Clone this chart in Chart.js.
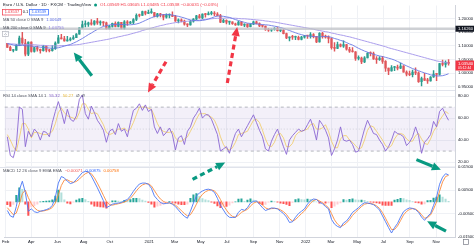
<!DOCTYPE html>
<html>
<head>
<meta charset="utf-8">
<script src="https://cdn.jsdelivr.net/npm/chart.js@4.4.0/dist/chart.umd.min.js"></script>
<style>
  html, body { margin: 0; padding: 0; background: #fff; }
  #wrap { width: 474px; height: 247px; }
</style>
</head>
<body>
<div id="wrap"><canvas id="myChart" width="474" height="247"></canvas></div>
<script>
// weekly EUR/USD candles, first week starting Monday 2020-02-03
const firstMonday = '2020-02-03';

const opens = [
  1.1090,1.0945,1.0830,1.0845, 1.1025,1.1285,1.1105,1.0695,1.1140, 1.0800,1.0935,1.0875,1.0820, 1.0980,1.0840,1.0820,1.0900,
  1.1100,1.1290,1.1255,1.1180,1.1220, 1.1250,1.1300,1.1430,1.1655, 1.1780,1.1785,1.1840,1.1795,1.1905, 1.1840,1.1845,1.1840,1.1630,
  1.1715,1.1825,1.1715,1.1860, 1.1645,1.1875,1.1830,1.1860,1.1965, 1.2120,1.2110,1.2255,1.2185,
  1.2215,1.2220,1.2080,1.2170, 1.2135,1.2045,1.2120,1.2120, 1.2075,1.1915,1.1950,1.1905,1.1795, 1.1765,1.1900,1.1980,1.2095,
  1.2020,1.2165,1.2140,1.2180,1.2195, 1.2165,1.2105,1.1865,1.1935, 1.1865,1.1875,1.1810,1.1770, 1.1870,1.1760,1.1795,1.1700,1.1795,
  1.1880,1.1815,1.1725,1.1720, 1.1595,1.1570,1.1600,1.1645, 1.1560,1.1570,1.1445,1.1290,1.1320, 1.1315,1.1315,1.1240,1.1320,
  1.1370,1.1360,1.1415,1.1345,1.1145, 1.1455,1.1350,1.1320,1.1270, 1.0930,1.0910,1.1050,1.0985, 1.1045,1.0875,1.0810,1.0785,
  1.0545,1.0550,1.0410,1.0560,1.0730, 1.0720,1.0520,1.0495,1.0555, 1.0430,1.0185,1.0080,1.0210, 1.0220,1.0180,1.0260,1.0040,0.9965,
  0.9950,1.0040,1.0015,0.9690, 0.9800,0.9740,0.9720,0.9860,0.9965, 0.9960,1.0355,1.0325,1.0400
];
const closes = [
  1.0945,1.0830,1.0845,1.1025, 1.1285,1.1105,1.0695,1.1140,1.0800, 1.0935,1.0875,1.0820,1.0980, 1.0840,1.0820,1.0900,1.1100,
  1.1290,1.1255,1.1180,1.1220,1.1250, 1.1300,1.1430,1.1655,1.1780, 1.1785,1.1840,1.1795,1.1905,1.1840, 1.1845,1.1840,1.1630,1.1715,
  1.1825,1.1715,1.1860,1.1645, 1.1875,1.1830,1.1860,1.1965,1.2120, 1.2110,1.2255,1.2185,1.2215,
  1.2220,1.2080,1.2170,1.2135, 1.2045,1.2120,1.2120,1.2075, 1.1915,1.1950,1.1905,1.1795,1.1765, 1.1900,1.1980,1.2095,1.2020,
  1.2165,1.2140,1.2180,1.2195,1.2165, 1.2105,1.1865,1.1935,1.1865, 1.1875,1.1810,1.1770,1.1870, 1.1760,1.1795,1.1700,1.1795,1.1880,
  1.1815,1.1725,1.1720,1.1595, 1.1570,1.1600,1.1645,1.1560, 1.1570,1.1445,1.1290,1.1320,1.1315, 1.1315,1.1240,1.1320,1.1370,
  1.1360,1.1415,1.1345,1.1145,1.1455, 1.1350,1.1320,1.1270,1.0930, 1.0910,1.1050,1.0985,1.1045, 1.0875,1.0810,1.0785,1.0545,
  1.0550,1.0410,1.0560,1.0730,1.0720, 1.0520,1.0495,1.0555,1.0430, 1.0185,1.0080,1.0210,1.0220, 1.0180,1.0260,1.0040,0.9965,0.9950,
  1.0040,1.0015,0.9690,0.9800, 0.9740,0.9720,0.9860,0.9965,0.9960, 1.0355,1.0325,1.0400,1.0354
];
const highs = [
  1.1095,1.0990,1.0865,1.1055, 1.1355,1.1495,1.1240,1.1150,1.1150, 1.0950,1.0990,1.0885,1.1020, 1.1000,1.0875,1.1010,1.1145,
  1.1385,1.1420,1.1350,1.1350,1.1300, 1.1375,1.1450,1.1660,1.1910, 1.1915,1.1865,1.1965,1.1920,1.2010, 1.1915,1.1890,1.1870,1.1755,
  1.1830,1.1880,1.1880,1.1860, 1.1920,1.1920,1.1895,1.2000,1.2175, 1.2165,1.2270,1.2275,1.2310,
  1.2350,1.2225,1.2190,1.2190, 1.2150,1.2170,1.2170,1.2245, 1.2115,1.1990,1.1990,1.1945,1.1810, 1.1930,1.1995,1.2115,1.2150,
  1.2170,1.2185,1.2245,1.2265,1.2255, 1.2220,1.2150,1.1975,1.1950, 1.1895,1.1880,1.1830,1.1910, 1.1900,1.1805,1.1805,1.1805,1.1910,
  1.1910,1.1845,1.1750,1.1720, 1.1640,1.1625,1.1670,1.1690, 1.1615,1.1610,1.1465,1.1325,1.1385, 1.1355,1.1360,1.1345,1.1385,
  1.1385,1.1485,1.1450,1.1350,1.1485, 1.1495,1.1395,1.1365,1.1290, 1.1120,1.1135,1.1070,1.1185, 1.1055,1.0950,1.0935,1.0790,
  1.0640,1.0590,1.0605,1.0750,1.0785, 1.0775,1.0605,1.0605,1.0615, 1.0465,1.0190,1.0280,1.0255, 1.0295,1.0370,1.0275,1.0090,1.0080,
  1.0115,1.0200,1.0050,0.9855, 0.9995,0.9810,0.9875,1.0095,0.9975, 1.0365,1.0480,1.0450,1.0500
];
const lows = [
  1.0940,1.0825,1.0778,1.0830, 1.1020,1.1055,1.0635,1.0640,1.0770, 1.0770,1.0810,1.0730,1.0810, 1.0780,1.0775,1.0805,1.0870,
  1.1095,1.1250,1.1170,1.1170,1.1185, 1.1240,1.1300,1.1430,1.1645, 1.1695,1.1710,1.1755,1.1755,1.1780, 1.1755,1.1735,1.1610,1.1610,
  1.1680,1.1690,1.1690,1.1620, 1.1610,1.1745,1.1810,1.1800,1.1925, 1.2060,1.2110,1.2130,1.2175,
  1.2190,1.2055,1.2050,1.2055, 1.1950,1.2010,1.2020,1.2065, 1.1895,1.1835,1.1875,1.1760,1.1705, 1.1760,1.1870,1.1960,1.2010,
  1.1985,1.2050,1.2130,1.2135,1.2105, 1.2095,1.1845,1.1850,1.1805, 1.1780,1.1780,1.1750,1.1755, 1.1750,1.1705,1.1665,1.1690,1.1775,
  1.1800,1.1700,1.1680,1.1565, 1.1530,1.1525,1.1570,1.1535, 1.1515,1.1435,1.1265,1.1185,1.1235, 1.1225,1.1220,1.1220,1.1285,
  1.1275,1.1285,1.1290,1.1120,1.1135, 1.1280,1.1280,1.1105,1.0880, 1.0805,1.0900,1.0960,1.0945, 1.0840,1.0760,1.0770,1.0470,
  1.0490,1.0350,1.0390,1.0555,1.0630, 1.0505,1.0360,1.0470,1.0355, 1.0070,0.9950,1.0075,1.0095, 1.0120,1.0165,1.0035,0.9900,0.9910,
  0.9865,0.9945,0.9665,0.9535, 0.9735,0.9630,0.9705,0.9850,0.9730, 0.9930,1.0270,1.0220,1.0290
];
const ma50 = [
  1.108,1.106,1.103,1.101,1.101,1.102,1.100,1.100,1.099,1.098, 1.097,1.095,1.095,1.093,1.092,1.091,1.092,1.093,1.096,1.099,
  1.102,1.105,1.110,1.115,1.121,1.127,1.134,1.141,1.147,1.154, 1.160,1.166,1.171,1.174,1.176,1.178,1.178,1.179,1.178,1.178,
  1.177,1.177,1.178,1.180,1.183,1.188,1.193,1.198,1.203,1.207, 1.210,1.213,1.214,1.215,1.214,1.213,1.210,1.208,1.205,1.202,
  1.198,1.195,1.193,1.192,1.192,1.193,1.195,1.198,1.202,1.206, 1.209,1.209,1.208,1.206,1.204,1.200,1.196,1.193,1.189,1.186,
  1.183,1.182,1.181,1.180,1.179,1.178,1.177,1.176,1.174,1.172, 1.170,1.167,1.164,1.160,1.156,1.152,1.148,1.144,1.141,1.138,
  1.136,1.135,1.134,1.133,1.133,1.134,1.134,1.134,1.131,1.127, 1.124,1.120,1.117,1.112,1.107,1.103,1.097,1.091,1.086,1.081,
  1.077,1.073,1.069,1.066,1.063,1.061,1.058,1.055,1.052,1.048, 1.043,1.038,1.032,1.027,1.022,1.017,1.013,1.009,1.005,1.001,
  0.998,0.994,0.992,0.990,0.990,0.991,0.994,0.998
];
const ma200 = [
  1.108,1.107,1.107,1.106,1.106,1.106,1.105,1.105,1.104,1.104, 1.103,1.102,1.102,1.101,1.100,1.100,1.100,1.100,1.101,1.101,
  1.102,1.102,1.103,1.104,1.105,1.107,1.109,1.111,1.113,1.115, 1.117,1.119,1.121,1.123,1.125,1.128,1.130,1.133,1.135,1.138,
  1.140,1.143,1.146,1.149,1.152,1.156,1.159,1.162,1.165,1.168, 1.171,1.174,1.176,1.179,1.181,1.183,1.185,1.186,1.188,1.189,
  1.190,1.191,1.192,1.193,1.194,1.196,1.197,1.198,1.199,1.200, 1.201,1.201,1.201,1.202,1.202,1.201,1.201,1.200,1.199,1.199,
  1.198,1.197,1.196,1.195,1.194,1.193,1.191,1.190,1.188,1.187, 1.185,1.183,1.181,1.179,1.177,1.175,1.173,1.171,1.169,1.167,
  1.165,1.163,1.161,1.158,1.156,1.154,1.152,1.150,1.147,1.145, 1.142,1.140,1.138,1.135,1.133,1.130,1.127,1.124,1.121,1.118,
  1.115,1.112,1.109,1.106,1.103,1.100,1.097,1.093,1.090,1.087, 1.084,1.081,1.078,1.075,1.072,1.069,1.066,1.063,1.060,1.057,
  1.054,1.051,1.048,1.045,1.043,1.041,1.039,1.037
];
const rsi = [
  43,26,24,35,70,68,34,48,43,50, 47,40,48,47,43,56,66,75,66,55, 68,59,57,62,77,81,64,59,71,65,
  58,54,49,38,48,50,45,55,48,50, 43,56,67,69,73,67,72,66,68,52, 46,52,44,47,51,45,31,42,44,36,
  48,52,60,64,69,60,63,63,59,52, 45,30,32,34,28,38,46,50,43,48, 53,58,63,56,49,43,32,30,39,45,
  50,42,34,27,40,44,47,50,48,49, 54,59,51,40,58,54,49,42,26,32, 40,52,40,39,40,36,29,30,40,50,
  58,52,46,45,40,36,30,34,40,48, 46,45,43,35,38,43,52,44,28,38, 41,45,57,52,66,69,63,58
];
const rsiMa = [
  45,40,34,30,42,55,55,50,42,47, 47,46,45,45,46,48,55,65,69,65, 62,61,60,59,65,73,73,68,64,65,
  64,59,54,47,45,46,48,50,50,51, 48,50,56,63,70,70,70,69,68,62, 55,50,48,47,47,48,42,39,39,41,
  43,48,53,59,64,64,64,62,61,58, 52,43,36,32,31,33,38,45,46,47, 48,53,58,59,56,49,41,35,34,38,
  45,46,42,34,34,37,44,47,48,49, 50,54,55,50,50,51,54,48,39,33, 33,41,44,44,40,38,35,32,33,40,
  49,53,52,48,44,40,35,33,35,41, 45,46,45,41,39,39,44,46,41,37, 36,41,48,52,58,62,66,64
];
const macd = [
  -0.0037,-0.0060,-0.0066,-0.0020,0.0050,0.0088,0.0040,-0.0040,-0.0030,-0.0042,
  -0.0046,-0.0040,-0.0037,-0.0033,-0.0028,-0.0015,0.0020,0.0080,0.0108,0.0102,
  0.0088,0.0078,0.0082,0.0095,0.0110,0.0125,0.0130,0.0128,0.0110,0.0085,
  0.0060,0.0033,0.0005,-0.0025,-0.0018,-0.0010,-0.0007,-0.0005,-0.0003,0.0005,
  0.0010,0.0025,0.0045,0.0062,0.0076,0.0080,0.0080,0.0075,0.0058,0.0025,
  0.0010,-0.0003,-0.0008,-0.0007,-0.0004,-0.0010,-0.0020,-0.0035,-0.0050,-0.0062,
  -0.0070,-0.0040,-0.0005,0.0025,0.0038,0.0046,0.0052,0.0054,0.0050,0.0040,
  0.0015,-0.0015,-0.0035,-0.0055,-0.0066,-0.0067,-0.0066,-0.0045,-0.0032,-0.0036,
  -0.0025,-0.0005,0.0002,0.0004,-0.0010,-0.0025,-0.0037,-0.0032,-0.0026,-0.0027,
  -0.0030,-0.0040,-0.0050,-0.0065,-0.0088,-0.0085,-0.0066,-0.0050,-0.0040,-0.0030,
  -0.0010,0.0005,0.0012,0.0010,-0.0002,-0.0008,-0.0020,-0.0030,-0.0075,-0.0095,
  -0.0105,-0.0110,-0.0090,-0.0082,-0.0065,-0.0045,-0.0035,-0.0025,-0.0012,-0.0004,
  -0.0005,-0.0008,-0.0012,-0.0022,-0.0035,-0.0060,-0.0085,-0.0110,-0.0133,-0.0110,
  -0.0092,-0.0065,-0.0042,-0.0032,-0.0026,-0.0028,-0.0033,-0.0045,-0.0065,-0.0079,
  -0.0062,-0.0050,-0.0015,0.0020,0.0075,0.0105,0.0120,0.0115
];
const signal = [
  -0.0025,-0.0040,-0.0055,-0.0048,-0.0010,0.0035,0.0050,0.0018,-0.0008,-0.0025,
  -0.0036,-0.0040,-0.0039,-0.0036,-0.0032,-0.0024,-0.0005,0.0030,0.0070,0.0093,
  0.0094,0.0087,0.0083,0.0087,0.0097,0.0110,0.0120,0.0126,0.0120,0.0103,
  0.0080,0.0055,0.0028,0.0002,-0.0012,-0.0014,-0.0011,-0.0008,-0.0005,-0.0001,
  0.0005,0.0015,0.0030,0.0047,0.0062,0.0072,0.0077,0.0077,0.0068,0.0048,
  0.0028,0.0012,0.0002,-0.0004,-0.0005,-0.0008,-0.0014,-0.0025,-0.0038,-0.0050,
  -0.0060,-0.0055,-0.0035,-0.0010,0.0015,0.0032,0.0043,0.0049,0.0051,0.0047,
  0.0032,0.0010,-0.0015,-0.0035,-0.0052,-0.0062,-0.0066,-0.0057,-0.0045,-0.0038,
  -0.0032,-0.0018,-0.0006,0.0000,-0.0003,-0.0013,-0.0026,-0.0031,-0.0029,-0.0028,
  -0.0029,-0.0034,-0.0042,-0.0054,-0.0072,-0.0082,-0.0076,-0.0063,-0.0050,-0.0039,
  -0.0022,-0.0006,0.0006,0.0010,0.0004,-0.0004,-0.0014,-0.0025,-0.0050,-0.0077,
  -0.0095,-0.0105,-0.0100,-0.0090,-0.0076,-0.0058,-0.0044,-0.0032,-0.0020,-0.0010,
  -0.0007,-0.0007,-0.0010,-0.0017,-0.0028,-0.0046,-0.0070,-0.0095,-0.0118,-0.0118,
  -0.0103,-0.0080,-0.0056,-0.0041,-0.0032,-0.0029,-0.0031,-0.0040,-0.0055,-0.0070,
  -0.0067,-0.0056,-0.0031,0.0000,0.0045,0.0085,0.0108,0.0113
];
const hist = [
  -0.0012,-0.0020,-0.0011,0.0028,0.0060,0.0053,-0.0010,-0.0058,-0.0022,-0.0017,
  -0.0010,0.0000,0.0002,0.0003,0.0004,0.0009,0.0025,0.0050,0.0038,0.0009,
  -0.0006,-0.0009,-0.0001,0.0008,0.0013,0.0015,0.0010,0.0002,-0.0010,-0.0018,
  -0.0020,-0.0022,-0.0023,-0.0027,-0.0006,0.0004,0.0004,0.0003,0.0002,0.0006,
  0.0005,0.0010,0.0015,0.0015,0.0014,0.0008,0.0003,-0.0002,-0.0010,-0.0023,
  -0.0018,-0.0015,-0.0010,-0.0003,0.0001,-0.0002,-0.0006,-0.0010,-0.0012,-0.0012,
  -0.0010,0.0015,0.0030,0.0035,0.0023,0.0014,0.0009,0.0005,-0.0001,-0.0007,
  -0.0017,-0.0025,-0.0020,-0.0020,-0.0014,-0.0005,0.0000,0.0012,0.0013,0.0002,
  0.0007,0.0013,0.0008,0.0004,-0.0007,-0.0012,-0.0011,-0.0001,0.0003,0.0001,
  -0.0001,-0.0006,-0.0008,-0.0011,-0.0016,-0.0003,0.0010,0.0013,0.0010,0.0009,
  0.0012,0.0011,0.0006,0.0000,-0.0006,-0.0004,-0.0006,-0.0005,-0.0025,-0.0018,
  -0.0010,-0.0005,0.0010,0.0008,0.0011,0.0013,0.0009,0.0007,0.0008,0.0006,
  0.0002,-0.0001,-0.0002,-0.0005,-0.0007,-0.0014,-0.0015,-0.0015,-0.0015,0.0008,
  0.0011,0.0015,0.0014,0.0009,0.0006,0.0001,-0.0002,-0.0005,-0.0010,-0.0009,
  0.0005,0.0006,0.0016,0.0020,0.0030,0.0020,0.0012,0.0002
];

// axis ticks
const monthTicks = ['2020-02-01','2020-04-01','2020-06-01','2020-08-01','2020-10-01','2021-01-01','2021-03-01','2021-05-01',
  '2021-07-01','2021-09-01','2021-11-01','2022-01-01','2022-03-01','2022-05-01','2022-07-01','2022-09-01','2022-11-01'];
const monthLabels = ['Feb','Apr','Jun','Aug','Oct','2021','Mar','May','Jul','Sep','Nov','2022','Mar','May','Jul','Sep','Nov'];
const priceTicks = [0.95, 1.00, 1.05, 1.10, 1.15, 1.20];
const rsiTicks = [20, 30, 40, 50, 60, 70, 80];
const rsiBands = [70, 50, 30];
const macdTicks = [-0.015, -0.01, -0.005, 0, 0.005, 0.01, 0.015];
const crossPrice = 1.1626;

// drawn annotations: [date, value, axis]
const arrows = [
  {from: ['2020-08-20', 0.9904, 'yPrice'], to: ['2020-07-09', 1.0761, 'yPrice'], color: '#089981', dash: false},
  {from: ['2021-02-09', 1.0420, 'yPrice'], to: ['2020-12-29', 83.3, 'yRsi'], color: '#f23645', dash: true},
  {from: ['2021-07-02', 0.9640, 'yPrice'], to: ['2021-07-25', 1.1690, 'yPrice'], color: '#f23645', dash: true},
  {from: ['2021-04-12', 0.0096, 'yMacd'], to: ['2021-06-27', 19.6, 'yRsi'], color: '#089981', dash: true},
  {from: ['2022-09-16', 22.2, 'yRsi'], to: ['2022-11-12', 0.0137, 'yMacd'], color: '#089981', dash: false},
  {from: ['2022-11-24', -0.0125, 'yMacd'], to: ['2022-10-11', -0.0083, 'yMacd'], color: '#089981', dash: false}
];

const ORIGIN = Date.UTC(2020, 1, 1);
const toDay = s => (Date.parse(s + 'T00:00:00Z') - ORIGIN) / 86400000;
const wx = i => toDay(firstMonday) + 7 * i + 2;

const UP = '#2a9d8f', DOWN = '#e0565a';
const candleColor = c => closes[c.dataIndex] >= opens[c.dataIndex] ? UP : DOWN;
const FONT = '"Liberation Sans", Arial, sans-serif';

function txt(ctx, s, x, y, color, size, align) {
  ctx.font = size + 'px ' + FONT;
  ctx.fillStyle = color;
  ctx.textAlign = align || 'left';
  ctx.textBaseline = 'middle';
  ctx.fillText(s, x, y);
  return ctx.measureText(s).width;
}

function drawArrow(ctx, x1, y1, x2, y2, color, dash) {
  const len = Math.hypot(x2 - x1, y2 - y1), ux = (x2 - x1) / len, uy = (y2 - y1) / len;
  const hl = 9, hw = 4.2;
  const bx = x2 - ux * hl, by = y2 - uy * hl;
  ctx.save();
  ctx.strokeStyle = color; ctx.fillStyle = color;
  ctx.lineWidth = 3.2; ctx.lineCap = 'butt';
  ctx.setLineDash(dash ? [5, 3.5] : []);
  ctx.beginPath(); ctx.moveTo(x1, y1); ctx.lineTo(bx, by); ctx.stroke();
  ctx.setLineDash([]);
  ctx.beginPath();
  ctx.moveTo(x2, y2);
  ctx.lineTo(bx - uy * hw, by + ux * hw);
  ctx.lineTo(bx + uy * hw, by - ux * hw);
  ctx.closePath(); ctx.fill();
  ctx.restore();
}

const paneDecor = {
  id: 'paneDecor',
  beforeDatasetsDraw(chart) {
    const {ctx, chartArea: a, scales} = chart;
    const r = scales.yRsi;
    const yTop = r.getPixelForValue(rsiBands[0]), yMid = r.getPixelForValue(rsiBands[1]), yBot = r.getPixelForValue(rsiBands[2]);
    ctx.save();
    ctx.fillStyle = 'rgba(126,87,194,0.09)';
    ctx.fillRect(a.left, yTop, a.right - a.left, yBot - yTop);
    ctx.strokeStyle = '#a3a6af'; ctx.lineWidth = 0.8;
    ctx.setLineDash([3, 3]);
    [yTop, yBot].forEach(y => { ctx.beginPath(); ctx.moveTo(a.left, y); ctx.lineTo(a.right, y); ctx.stroke(); });
    ctx.strokeStyle = 'rgba(149,152,161,0.45)'; ctx.setLineDash([1, 2]);
    ctx.beginPath(); ctx.moveTo(a.left, yMid); ctx.lineTo(a.right, yMid); ctx.stroke();
    ctx.setLineDash([]);
    ctx.strokeStyle = '#e0e3eb'; ctx.lineWidth = 1;
    [scales.yRsi.top, scales.yMacd.top].forEach(y => {
      ctx.beginPath(); ctx.moveTo(0, Math.round(y) + 0.5); ctx.lineTo(a.right, Math.round(y) + 0.5); ctx.stroke();
    });
    ctx.restore();
  },
  afterDatasetsDraw(chart) {
    const {ctx, chartArea: a, scales} = chart;
    const cy = scales.yPrice.getPixelForValue(crossPrice);
    ctx.save();
    ctx.strokeStyle = 'rgba(190,192,198,0.75)'; ctx.lineWidth = 2.5;
    ctx.beginPath(); ctx.moveTo(0, cy); ctx.lineTo(a.right, cy); ctx.stroke();
    ctx.restore();
    arrows.forEach(ar => {
      const x1 = scales.x.getPixelForValue(toDay(ar.from[0])), y1 = scales[ar.from[2]].getPixelForValue(ar.from[1]);
      const x2 = scales.x.getPixelForValue(toDay(ar.to[0])), y2 = scales[ar.to[2]].getPixelForValue(ar.to[1]);
      drawArrow(ctx, x1, y1, x2, y2, ar.color, ar.dash);
    });
  },
  afterDraw(chart) {
    const {ctx, chartArea: a, scales} = chart;
    ctx.save();
    // header
    let x = 3;
    x += txt(ctx, 'Euro / U.S. Dollar · 1D · FXCM · TradingView', x, 5, '#131722', 4.4) + 3;
    ctx.fillStyle = '#089981'; ctx.beginPath(); ctx.arc(x + 1.5, 5, 1.5, 0, Math.PI * 2); ctx.fill();
    x += 6;
    txt(ctx, 'O1.03569 H1.03605 L1.03485 C1.03538 −0.00031 (−0.03%)', x, 5, '#f23645', 4.4);
    ctx.lineWidth = 0.7;
    ctx.strokeStyle = '#f23645'; ctx.strokeRect(2.5, 9.5, 19, 5.5);
    txt(ctx, '1.03537', 12, 12.3, '#f23645', 4, 'center');
    txt(ctx, '0.1', 25.5, 12.3, '#131722', 4, 'center');
    ctx.strokeStyle = '#2962ff'; ctx.strokeRect(29.5, 9.5, 19, 5.5);
    txt(ctx, '1.03539', 39, 12.3, '#2962ff', 4, 'center');
    x = 3;
    x += txt(ctx, 'MA 50 close 0 SMA 9', x, 19.5, '#50535e', 4.2) + 3;
    txt(ctx, '1.00649', x, 19.5, '#5b6be0', 4.2);
    x = 3;
    x += txt(ctx, 'MA 200 close 0 SMA 9', x, 27.5, '#50535e', 4.2) + 3;
    txt(ctx, '1.03755', x, 27.5, '#8e7fe0', 4.2);
    ctx.strokeStyle = '#b2b5be'; ctx.strokeRect(2.5, 31.5, 6, 5);
    ctx.beginPath(); ctx.moveTo(4, 35); ctx.lineTo(5.5, 33.5); ctx.lineTo(7, 35); ctx.stroke();
    // RSI legend
    const ry = scales.yRsi.top + 6;
    x = 3;
    x += txt(ctx, 'RSI 14 close SMA 14 1', x, ry, '#50535e', 4.2) + 3;
    x += txt(ctx, '55.32', x, ry, '#7e57c2', 4.2) + 3;
    x += txt(ctx, '50.27', x, ry, '#e8b839', 4.2) + 3;
    x += txt(ctx, 'Ø', x, ry, '#50535e', 4.2) + 2;
    txt(ctx, 'Ø', x, ry, '#50535e', 4.2);
    // MACD legend
    const my = scales.yMacd.top + 4;
    x = 3;
    x += txt(ctx, 'MACD 12 26 close 9 EMA EMA', x, my, '#50535e', 4.2) + 3;
    x += txt(ctx, '−0.00071', x, my, '#ef5350', 4.2) + 3;
    x += txt(ctx, '0.00875', x, my, '#2962ff', 4.2) + 3;
    txt(ctx, '0.00758', x, my, '#ff6d00', 4.2);
    // price axis labels
    const cy = scales.yPrice.getPixelForValue(crossPrice);
    ctx.fillStyle = '#131722'; ctx.fillRect(a.right + 0.5, cy - 3, 18.5, 6);
    txt(ctx, crossPrice.toFixed(5), a.right + 3, cy, '#ffffff', 4.2);
    const last = closes[closes.length - 1];
    const ly = scales.yPrice.getPixelForValue(last);
    ctx.fillStyle = '#f23645'; ctx.fillRect(a.right + 0.5, ly - 3, 18.5, 10);
    txt(ctx, last.toFixed(5), a.right + 3, ly, '#ffffff', 4.2);
    txt(ctx, '05:12:44', a.right + 3, ly + 4.3, '#ffffff', 3.4);
    // settings square
    ctx.strokeStyle = '#787b86'; ctx.lineWidth = 0.7;
    ctx.strokeRect(463.5, 239.5, 5, 5);
    ctx.restore();
  }
};

const gridColor = '#eff1f5';
const yAxis = (weight, min, max, tickValues, digits) => ({
  type: 'linear', position: 'right', stack: 'panes', stackWeight: weight, min: min, max: max,
  afterBuildTicks: s => { s.ticks = tickValues.map(v => ({value: v})); },
  afterFit: s => { s.width = 19; },
  ticks: {callback: v => v.toFixed(digits), font: {size: 4.2, family: FONT}, color: '#131722', padding: 3},
  grid: {color: gridColor, drawTicks: false},
  border: {color: '#d1d4dc'}
});

const pts = arr => arr.map((v, i) => ({x: wx(i), y: v}));
const lineDs = (label, arr, axis, color, width) => ({
  type: 'line', label: label, data: pts(arr), yAxisID: axis, borderColor: color,
  borderWidth: width || 1, pointRadius: 0, tension: 0, fill: false
});

const ctx = document.getElementById('myChart').getContext('2d');
const myChart = new Chart(ctx, {
  type: 'line',
  data: {
    datasets: [
      lineDs('MA 50', ma50, 'yPrice', '#6a78e4', 0.9),
      lineDs('MA 200', ma200, 'yPrice', '#a293ea', 0.9),
      {
        type: 'bar', label: 'body', yAxisID: 'yPrice', grouped: false, barThickness: 1.6, minBarLength: 1,
        data: opens.map((o, i) => ({x: wx(i), y: [o, closes[i]]})),
        backgroundColor: candleColor
      },
      {
        type: 'bar', label: 'wick', yAxisID: 'yPrice', grouped: false, barThickness: 0.8,
        data: lows.map((l, i) => ({x: wx(i), y: [l, highs[i]]})),
        backgroundColor: candleColor
      },
      lineDs('RSI', rsi, 'yRsi', '#8a67d2', 0.9),
      lineDs('RSI MA', rsiMa, 'yRsi', 'rgba(240,196,70,0.75)', 0.9),
      lineDs('MACD', macd, 'yMacd', '#4a76f5', 0.9),
      lineDs('Signal', signal, 'yMacd', '#fb8a3c', 0.9),
      {
        type: 'bar', label: 'Histogram', yAxisID: 'yMacd', grouped: false, barThickness: 1.4,
        data: pts(hist),
        backgroundColor: c => {
          const i = c.dataIndex, v = hist[i], p = i > 0 ? hist[i - 1] : v;
          if (v >= 0) return v >= p ? '#26a69a' : '#b2dfdb';
          return v <= p ? '#ff5252' : '#ffcdd2';
        }
      }
    ]
  },
  options: {
    responsive: false,
    animation: false,
    devicePixelRatio: 1,
    layout: {padding: 0},
    plugins: {legend: {display: false}, tooltip: {enabled: false}},
    scales: {
      x: {
        type: 'linear', min: toDay('2020-01-30'), max: toDay('2022-12-15'), offset: false,
        afterBuildTicks: s => { s.ticks = monthTicks.map(d => ({value: toDay(d)})); },
        afterFit: s => { s.height = 10; },
        ticks: {autoSkip: false, maxRotation: 0, callback: (v, i) => monthLabels[i],
                font: {size: 4.2, family: FONT}, color: '#131722', padding: 2},
        grid: {color: gridColor, drawTicks: false, offset: false},
        border: {color: '#d1d4dc'}
      },
      yPrice: yAxis(86, 0.9404, 1.2475, priceTicks, 5),
      yRsi: yAxis(79, 15.8, 86, rsiTicks, 2),
      yMacd: yAxis(72, -0.015, 0.015, macdTicks, 5)
    }
  },
  plugins: [paneDecor]
});
</script>
</body>
</html>
